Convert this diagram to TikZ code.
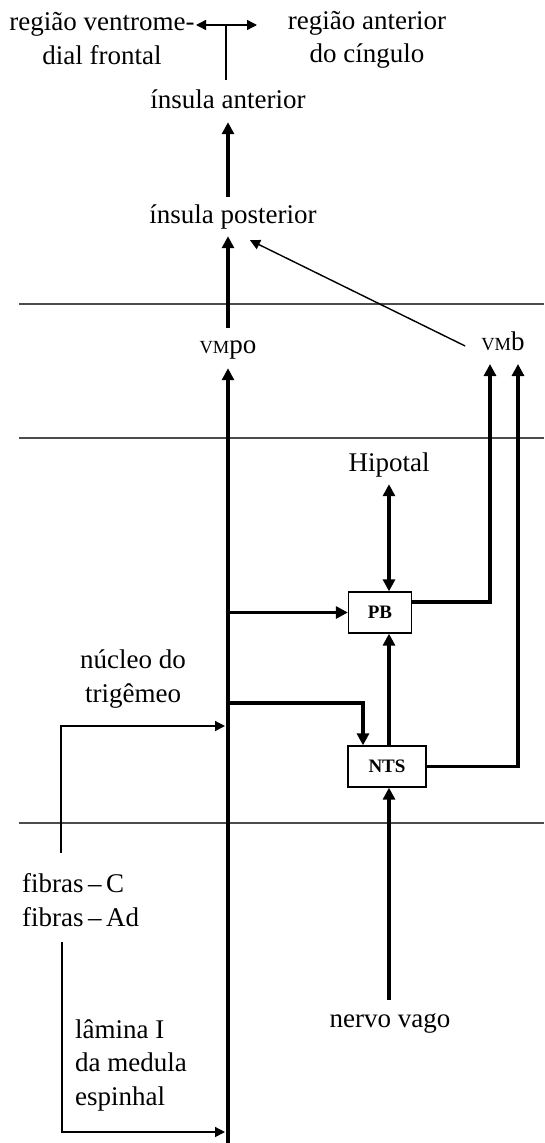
\documentclass[tikz,border=0pt]{standalone}
\usepackage{fontspec}
\setmainfont{Liberation Serif}
\usetikzlibrary{arrows.meta}
\begin{document}
\begin{tikzpicture}[x=1pt,y=-1pt,
  lbl/.style={font=\fontsize{27}{33.5}\selectfont, inner sep=0pt, anchor=base, align=center},
  one/.style={lbl, text height=19pt, text depth=6pt},
  box/.style={draw, line width=1.3pt, inner sep=0pt, font=\fontsize{19}{19}\selectfont\bfseries},
  thk/.style={line width=3.2pt},
  thn/.style={line width=1.4pt},
  sep/.style={line width=1.4pt, black!70},
  tipA/.style={-{Triangle[length=12pt,width=12pt]}},
  tipAA/.style={{Triangle[length=12pt,width=12pt]}-{Triangle[length=12pt,width=12pt]}},
  tipB/.style={-{Triangle[length=10pt,width=10pt]}},
  tipBB/.style={{Triangle[length=10pt,width=10pt]}-{Triangle[length=10pt,width=10pt]}},
]
\useasboundingbox (0,0) rectangle (544,1143);

% level separators
\draw[sep] (19,304) -- (544,304);
\draw[sep] (19,438) -- (544,438);
\draw[sep] (19,823) -- (544,823);

% labels (multi-line nodes: base = baseline of last line)
\node[lbl] (rvf) at (102,64) {região ventrome-\\dial frontal};
\node[lbl] (rac) at (367,62.5) {região anterior\\do cíngulo};
\node[one] (ia) at (228,108) {ínsula anterior};
\node[one] (ip) at (233,223) {ínsula posterior};
\node[one] (vmpo) at (228,353) {{\fontsize{18.5}{18.5}\selectfont VM}po};
\node[one] (vmb) at (503,350) {{\fontsize{18.5}{18.5}\selectfont VM}b};
\node[one] (hip) at (389,471) {Hipotal};
\node[box, minimum width=63pt, minimum height=41pt] (pb) at (380,612.5) {PB};
\node[box, minimum width=78pt, minimum height=41pt] (nts) at (387,766.5) {NTS};
\node[lbl] (ntg) at (133,702) {núcleo do\\trigêmeo};
\node[lbl, align=left, anchor=base west] (fib) at (22,926) {fibras\,–\,C\\fibras\,–\,Ad};
\node[lbl, align=left, anchor=base west] (lam) at (75,1105) {lâmina I\\da medula\\espinhal};
\node[one] (nv) at (390,1027) {nervo vago};

% helper coordinates
\coordinate (dl) at (196,25);
\coordinate (dr) at (257,25);
\coordinate (mbot) at (228,1143);
\coordinate (vb1) at (490,364);
\coordinate (vb2) at (518,364);
\coordinate (j2) at (228,703);
\coordinate (t1) at (61,853);
\coordinate (t2) at (225,726);
\coordinate (f1) at (62,942);
\coordinate (f2) at (225,1132);

% top
\draw[thn, tipBB] (dl) -- (dr);
\draw[thn] ([shift={(-2,-9)}]ia.north) coordinate (v0) -- (v0 |- dl);

% insula chain
\draw[thk, tipA] ([shift={(-5,-7)}]ip.north) -- ([shift={(0,8)}]ia.south);
\draw[thk, tipA] ([shift={(0,-6)}]vmpo.north) -- ([shift={(-5,7)}]ip.south);
\draw[thn, tipB] ([shift={(-16,2.5)}]vmb.west) -- ([shift={(17,11)}]ip.south);

% main ascending line
\draw[thk, tipA] (mbot) -- ([shift={(0,9)}]vmpo.south);

% PB and NTS
\draw[thk, tipA] (pb.west -| vmpo) -- (pb.west);
\draw[thk, tipA] ([shift={(0,-10.5)}]pb.east) -| (vb1);
\draw[thk, tipA] (nts.east) -| (vb2);
\draw[thk, tipAA] ([shift={(0,7)}]hip.south) -- (pb.north -| hip);
\draw[thk, tipA] (nts.north -| hip) -- (pb.south -| hip);
\draw[thk, tipA] (j2) -| ([shift={(-24,0)}]nts.north);
\draw[thk, tipA] ([shift={(-1,-8)}]nv.north) -- ([shift={(-1,0)}]nts.south -| nv);

% afferent fibres
\draw[thn, tipB] (t1) |- (t2);
\draw[thn, tipB] (f1) |- (f2);
\end{tikzpicture}
\end{document}
